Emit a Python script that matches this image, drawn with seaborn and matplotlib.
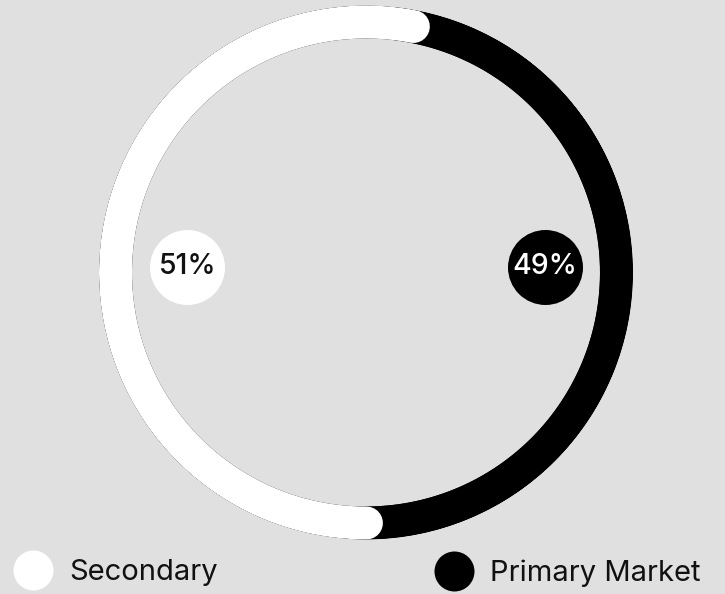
import numpy as np
import matplotlib
matplotlib.use("Agg")
import matplotlib.pyplot as plt
from matplotlib.lines import Line2D
import seaborn as sns

# Market split (percent of total)
segments = ["Primary Market", "Secondary"]
shares = [49, 51]
seg_colors = ["#000000", "#ffffff"]
value_text_colors = ["#ffffff", "#111111"]
legend_order = ["Secondary", "Primary Market"]

BG = "#e0e0e0"
sns.set_theme(style="white", rc={
    "figure.facecolor": BG,
    "axes.facecolor": BG,
    "savefig.facecolor": BG,
})
plt.rcParams["font.family"] = ["Inter", "DejaVu Sans"]

W, H, DPI = 725, 594, 100
fig = plt.figure(figsize=(W / DPI, H / DPI), dpi=DPI)

# polar axes holding the ring
cx, cy, R = 366, 272.5, 267
ax = fig.add_axes([(cx - R) / W, 1 - (cy + R) / H, 2 * R / W, 2 * R / H],
                  projection="polar")
ax.set_theta_zero_location("N")
ax.set_theta_direction(-1)
ax.set_rlim(0, 1)
ax.set_axis_off()

ring_px = 33
ring_r = (R - ring_px / 2) / R
lw = ring_px * 72 / DPI

# dark track under the segments
track = np.linspace(0, 2 * np.pi, 720)
ax.plot(track, np.full_like(track, ring_r), color="#000000", lw=lw,
        solid_capstyle="butt", zorder=1)

# segments with rounded ends; each later segment overlaps its neighbours
# slightly so its rounded caps bite into the previous one
start = np.deg2rad(7.2)
overlap = np.deg2rad(3.7)
bounds = start + np.concatenate([[0], np.cumsum(shares)]) / sum(shares) * 2 * np.pi
for i, (share, col) in enumerate(zip(shares, seg_colors)):
    ext = overlap if i > 0 else 0.0
    th = np.linspace(bounds[i] - ext, bounds[i + 1] + ext, 400)
    ax.plot(th, np.full_like(th, ring_r), color=col, lw=lw,
            solid_capstyle="round", zorder=2 + i)

# value badges on either side of the ring
badge_theta = np.deg2rad([88.1, 271.8])
badge_r = 0.669
for share, col, tcol, th in zip(shares, seg_colors, value_text_colors, badge_theta):
    ax.scatter([th], [badge_r], s=54 ** 2, color=col, linewidths=0, zorder=5)
    ax.text(th, badge_r, f"{share}%", color=tcol, fontsize=20.5,
            fontweight="medium", ha="center", va="center", zorder=6)

# legend entries along the bottom
color_of = dict(zip(segments, seg_colors))
legend_x = [12.7 / W, 433.5 / W]
for name, lx in zip(legend_order, legend_x):
    handle = Line2D([], [], ls="", marker="o", markersize=28.8,
                    markerfacecolor=color_of[name], markeredgewidth=0)
    leg = fig.legend([handle], [name], loc="center left",
                     bbox_to_anchor=(lx, 1 - 573 / H), frameon=False,
                     fontsize=21, handlelength=1.4, handletextpad=0.55,
                     borderpad=0, borderaxespad=0)
    for t in leg.get_texts():
        t.set_color("#111111")

fig.savefig("out.png", dpi=DPI, facecolor=BG)
